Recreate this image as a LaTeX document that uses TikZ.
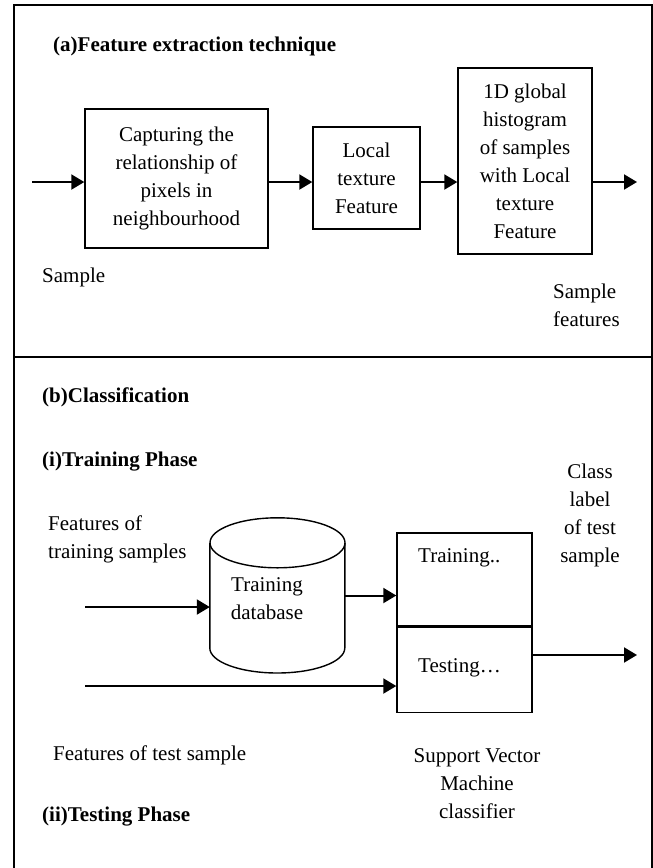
\documentclass[tikz,border=0pt]{standalone}
\usepackage{fontspec}
\setmainfont{Liberation Serif}
\usetikzlibrary{arrows.meta,positioning}
\begin{document}
\begin{tikzpicture}[x=1pt, y=-1pt,
	font=\fontsize{21}{28}\selectfont,
	box/.style={draw, line width=1.4pt, inner sep=0pt, align=center},
	arr/.style={line width=2pt, -{Triangle[length=13pt,width=15pt]}},
	lbl/.style={inner sep=0pt, align=left},
	head/.style={lbl, anchor=west, font=\fontsize{21}{28}\selectfont\bfseries}]
	%\draw[help lines, step=50] (0,0) grid (653,868);
	\useasboundingbox (0,0) rectangle (653,868);
	\draw [line width=1.6pt] (14,868) -- (14,5) -- (652,5) -- (652,868);
	\draw [line width=1.6pt] (14,357) -- (652,357);
	
	% (a) feature extraction
	\node [head] (ta) at (53,46) {(a)Feature extraction technique};
	\node [box, minimum width=183, minimum height=139] (cap) at (176.5,178.5) {Capturing the\\relationship of\\pixels in\\neighbourhood};
	\node [box, minimum width=107, minimum height=102] (loc) at (366.5,178) {Local\\texture\\Feature};
	\node [box, minimum width=134, minimum height=186] (hist) at (525,161) {1D global\\histogram\\of samples\\with Local\\texture\\Feature};
	
	\coordinate (in) at (32,182);
	\coordinate (out) at (637,182);
	\draw [arr] (in) -- (in -| cap.west);
	\draw [arr] (in -| cap.east) -- (in -| loc.west);
	\draw [arr] (in -| loc.east) -- (in -| hist.west);
	\draw [arr] (in -| hist.east) -- (out);
	
	\node [lbl, anchor=west] (smp) at (42,277) {Sample};
	\node [lbl, anchor=west] (sf) at (553,305.5) {Sample\\features};
	
	% (b) classification
	\node [head] (tb) at (42,397) {(b)Classification};
	\node [head] (tr) at (42,462) {(i)Training Phase};
	\node [lbl, align=center] (cl) at (590,515.5) {Class\\label\\of test\\sample};
	\node [lbl, anchor=west] (ftl) at (48,539) {Features of\\training samples};
	
	% database
	\node [minimum width=135, minimum height=155, inner sep=0pt] (db) at (277.5,595.5) {};
	\draw [line width=1.4pt] (db.north) ++(0,25) ellipse [x radius=67.5pt, y radius=25pt];
	\draw [line width=1.4pt] (db.west) ++(0,-52.5) -- ++(0,105) arc [start angle=180, end angle=360, x radius=67.5pt, y radius=25pt] -- ++(0,-105);
	\node [lbl, align=center] (dbt) at (267,599) {Training\\database};
	
	% svm
	\node [box, minimum width=135, minimum height=93] (trn) at (464.5,579.5) {};
	\node [box, minimum width=135, minimum height=85, below=0pt of trn] (tst) {};
	\node [lbl, anchor=west] (trt) at (418,558) {Training..};
	\node [lbl, anchor=west] (tstt) at (418,668) {Testing…};
	
	\coordinate (ftr) at (85,607);
	\coordinate (fts) at (85,686);
	\coordinate (cls) at (637,655);
	\draw [arr] (ftr) -- (ftr -| db.west);
	\draw [arr] (db.east) -- (db.east -| trn.west);
	\draw [arr] (fts) -- (fts -| tst.west);
	\draw [arr] (tst.east |- cls) -- (cls);
	
	\node [lbl, anchor=west] (ftsl) at (53,755) {Features of test sample};
	\node [lbl, align=center] (svm) at (477,783.5) {Support Vector\\Machine\\classifier};
	\node [head] (te) at (42,817) {(ii)Testing Phase};
\end{tikzpicture}
\end{document}
